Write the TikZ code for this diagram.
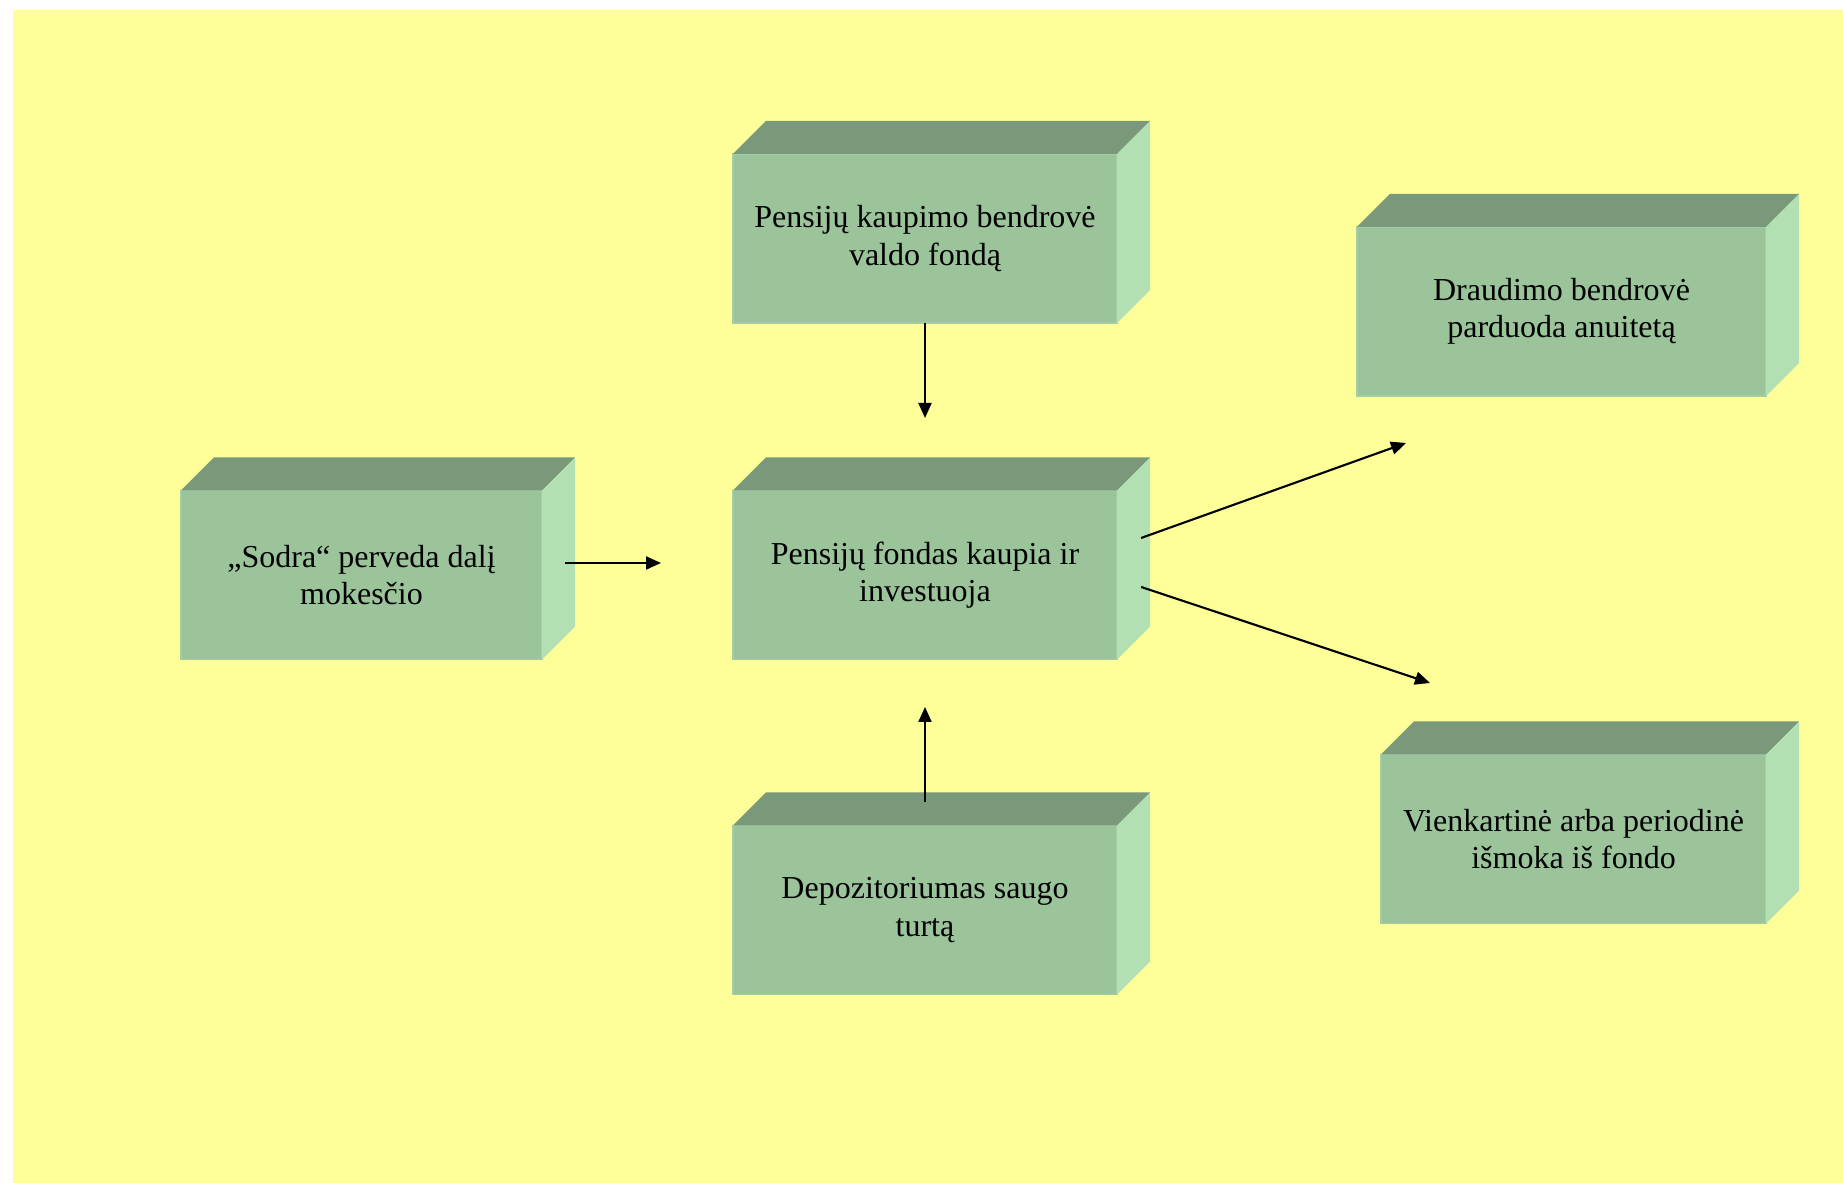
\documentclass[tikz,border=0pt]{standalone}
\usepackage{fontspec}
\setmainfont{Liberation Serif}
\usepackage{xcolor}
\usetikzlibrary{arrows.meta}
\definecolor{fonas}{RGB}{255,255,153}
\definecolor{priekis}{RGB}{155,196,155}
\definecolor{virsus}{RGB}{122,152,122}
\definecolor{sonas}{RGB}{178,224,178}
\definecolor{kontur}{RGB}{165,205,165}
\tikzset{dezute/.style={rectangle,fill=priekis,draw=kontur,line width=0.4pt,inner sep=0pt,outer sep=0pt,
    minimum height=1.69cm,align=center,font=\fontsize{9.1}{10.6}\selectfont},
  rodykle/.style={line width=0.6pt,-{Triangle[length=0.15cm,width=0.13cm]}}}

\begin{document}
\begin{tikzpicture}[x=0.01cm,y=0.01cm]
			\useasboundingbox (0,0) rectangle (1843,1183);
			\fill[fonas] (13,0) rectangle (1843,1173);
			\node[dezute,minimum width=3.84cm] (bendrove) at (925,944.5) {Pensijų kaupimo bendrovė\\valdo fondą};
			\node[dezute,minimum width=3.84cm] (fondas) at (925,608) {Pensijų fondas kaupia ir\\investuoja};
			\node[dezute,minimum width=3.61cm] (sodra) at (361.5,608) {„Sodra“ perveda dalį\\mokesčio};
			\node[dezute,minimum width=3.84cm] (depozit) at (925,273) {Depozitoriumas saugo\\turtą};
			\node[dezute,minimum width=4.09cm] (draudimas) at (1561.5,871.5) {Draudimo bendrovė\\parduoda anuitetą};
			\node[dezute,minimum width=3.85cm] (ismoka) at (1573.5,344) {Vienkartinė arba periodinė\\išmoka iš fondo};
			\foreach \n in {bendrove,fondas,sodra,depozit,draudimas,ismoka}{
				\fill[virsus] (\n.north west) -- ++(33,33) -- ([shift={(33,33)}]\n.north east) -- (\n.north east) -- cycle;
				\fill[sonas] (\n.north east) -- ++(33,33) -- ([shift={(33,33)}]\n.south east) -- (\n.south east) -- cycle;
			}
			\coordinate (fvirsus) at (925,765);
			\coordinate (fkaire) at (661,620);
			\coordinate (fapacia) at (925,476);
			\coordinate (idraud) at (1406,740);
			\coordinate (iismok) at (1430,500);
			\draw[rodykle] (bendrove.south) -- (fvirsus);
			\draw[rodykle] ([shift={(23,12)}]sodra.east) -- (fkaire);
			\draw[rodykle] ([shift={(0,23)}]depozit.north) -- (fapacia);
			\draw[rodykle] ([shift={(24,37)}]fondas.east) -- (idraud);
			\draw[rodykle] ([shift={(24,-12)}]fondas.east) -- (iismok);
		\end{tikzpicture}
\end{document}
